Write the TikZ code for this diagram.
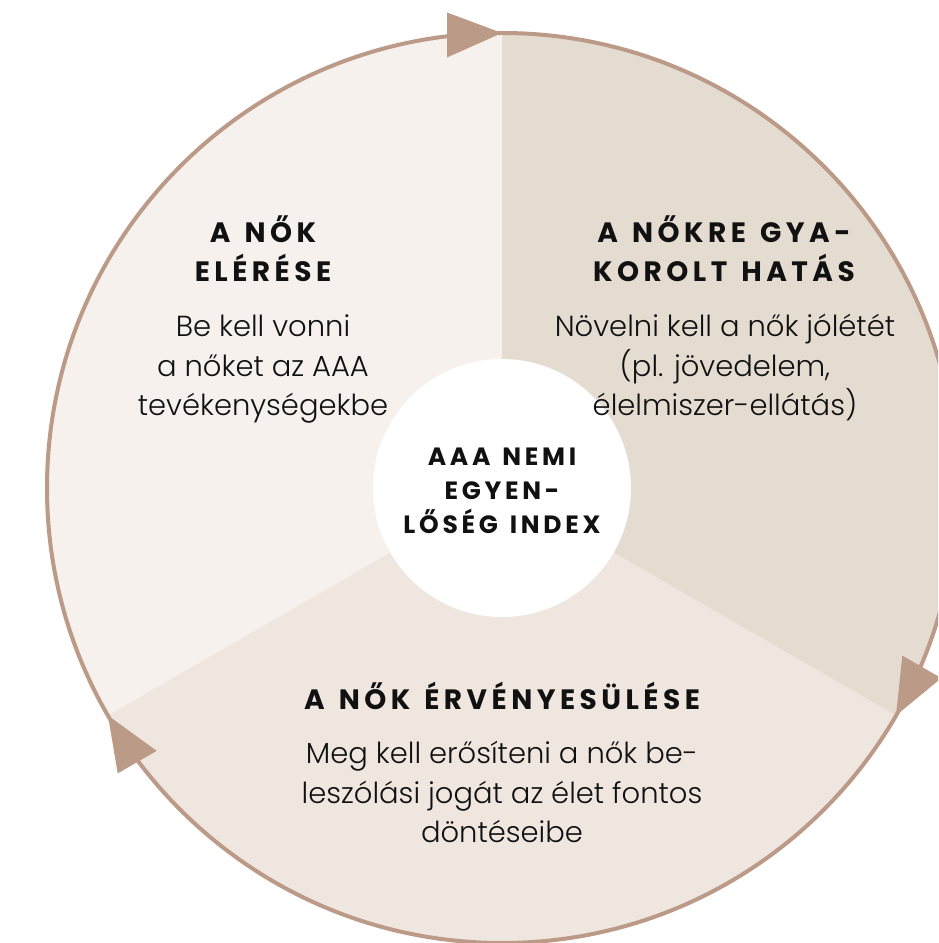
\documentclass[tikz,border=0pt]{standalone}
\usepackage{fontspec}
\IfFontExistsTF{Poppins Light}{\newfontfamily\bodyfont{Poppins Light}}{\newfontfamily\bodyfont{Poppins}}
\newfontfamily\headfont{Poppins}[LetterSpace=16,WordSpace=1.35]
\newfontfamily\corefont{Poppins}[LetterSpace=15,WordSpace=1.3]
\definecolor{ringc}{HTML}{BB9A88}
\definecolor{secL}{HTML}{F6F1ED}
\definecolor{secR}{HTML}{E4DBD1}
\definecolor{secB}{HTML}{EFE6E0}
\definecolor{ink}{HTML}{111111}
\begin{document}
\begin{tikzpicture}[x=1pt,y=1pt,
  ring/.style={draw=ringc, line width=4pt},
  tiphead/.style={fill=ringc},
  head/.style={font=\headfont\bfseries\fontsize{28}{39}\selectfont, align=center, anchor=base, inner sep=0pt, text=ink},
  body/.style={font=\bodyfont\fontsize{29}{39.5}\selectfont, align=center, anchor=base, inner sep=0pt, text=ink},
  core/.style={font=\corefont\bfseries\fontsize{25}{34}\selectfont, align=center, anchor=base, inner sep=0pt, text=ink}
  ]
\useasboundingbox (0,0) rectangle (938,943);
\clip (0,0) rectangle (938,943);
\coordinate (c) at (502,455);
\fill[secL] (c) -- ++(90:455) arc[start angle=90,end angle=210,radius=455] -- cycle;
\fill[secB] (c) -- ++(210:455) arc[start angle=210,end angle=330,radius=455] -- cycle;
\fill[secR] (c) -- ++(-30:455) arc[start angle=-30,end angle=90,radius=455] -- cycle;
\draw[ring] (c) circle[radius=455];
\fill[white] (c) circle[radius=129];
\foreach \a in {90,210,330}{
  \fill[tiphead, shift={(c)}, rotate=\a] (455,0) -- (475.5,55) -- (430.5,55) -- cycle;
}
\node[head] (headL) at (263,661) {A NŐK\\ELÉRÉSE};
\node[body] (bodyL) at (263,527) {Be kell vonni\\a nőket az AAA\\tevékenységekbe};
\node[head] (headR) at (724,661) {A NŐKRE GYA-\\KOROLT HATÁS};
\node[body] (bodyR) at (725,527) {Növelni kell a nők jólétét\\(pl. jövedelem,\\élelmiszer-ellátás)};
\node[head] (headB) at (502,233) {A NŐK ÉRVÉNYESÜLÉSE};
\node[body] (bodyB) at (502,100) {Meg kell erősíteni a nők be-\\leszólási jogát az élet fontos\\döntéseibe};
\node[core] (core) at (502,409) {AAA NEMI\\EGYEN-\\LŐSÉG INDEX};
\end{tikzpicture}
\end{document}
